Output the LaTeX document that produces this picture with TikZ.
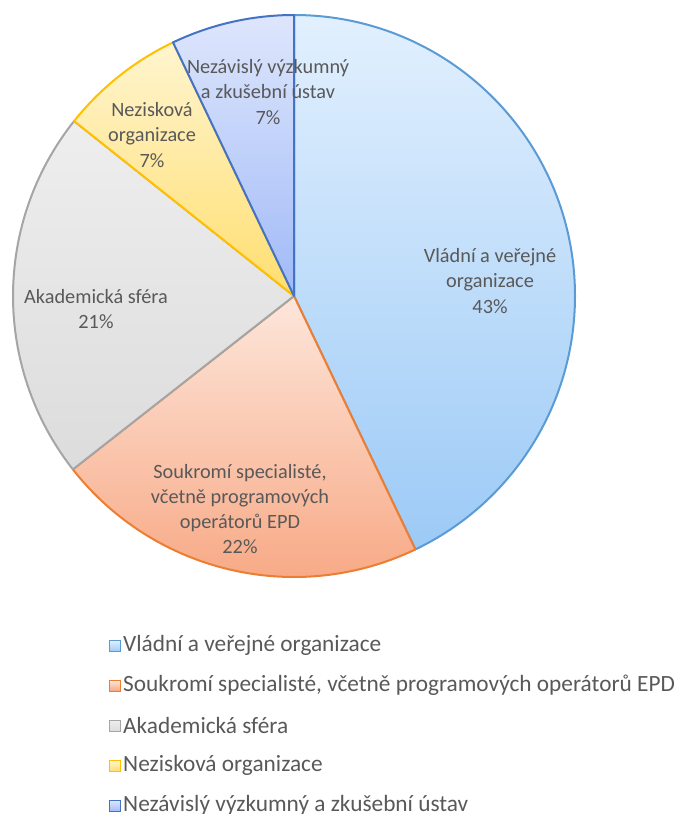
\documentclass[tikz,border=0pt]{standalone}
\usepackage{fontspec}
\setmainfont{Carlito}
\definecolor{txt}{HTML}{595959}
\definecolor{bluL}{HTML}{5B9BD5}
\definecolor{orgL}{HTML}{ED7D31}
\definecolor{gryL}{HTML}{A5A5A5}
\definecolor{ylwL}{HTML}{FFC000}
\definecolor{dbuL}{HTML}{4472C4}
\definecolor{bluT}{HTML}{E2F0FE}
\definecolor{bluB}{HTML}{9CCAF6}
\definecolor{orgT}{HTML}{FDE6DB}
\definecolor{orgB}{HTML}{F7A47E}
\definecolor{gryT}{HTML}{EEEEEE}
\definecolor{gryB}{HTML}{DCDCDC}
\definecolor{ylwT}{HTML}{FFF5CF}
\definecolor{ylwB}{HTML}{FFDE70}
\definecolor{dbuT}{HTML}{DEE6FC}
\definecolor{dbuB}{HTML}{A0BAF7}
\tikzset{
  slice/.style={line width=2pt, line join=round},
  lbl/.style={text=txt, font=\fontsize{20.3}{25.3}\selectfont, align=center, inner sep=0pt},
  legtxt/.style={text=txt, font=\fontsize{23.3}{26}\selectfont, anchor=west, inner sep=0pt},
  legbox/.style={line width=1.3pt, minimum size=11pt, inner sep=0pt},
}
\begin{document}
\begin{tikzpicture}[x=1pt,y=1pt]
\useasboundingbox (0,0) rectangle (681,-814);
\coordinate (c) at (294,-296);
\def\R{281}
% pie slices, clockwise from the top
\draw[slice, draw=bluL, top color=bluT, bottom color=bluB]
  (c) -- ++(90:\R) arc[start angle=90, end angle=-64.4, radius=\R] -- cycle;
\draw[slice, draw=orgL, top color=orgT, bottom color=orgB]
  (c) -- ++(-64.4:\R) arc[start angle=-64.4, end angle=-141.9, radius=\R] -- cycle;
\draw[slice, draw=gryL, top color=gryT, bottom color=gryB]
  (c) -- ++(-141.9:\R) arc[start angle=-141.9, end angle=-218.5, radius=\R] -- cycle;
\draw[slice, draw=ylwL, top color=ylwT, bottom color=ylwB]
  (c) -- ++(-218.5:\R) arc[start angle=-218.5, end angle=-244.5, radius=\R] -- cycle;
\draw[slice, draw=dbuL, top color=dbuT, bottom color=dbuB]
  (c) -- ++(-244.5:\R) arc[start angle=-244.5, end angle=-270, radius=\R] -- cycle;
% data labels
\node[lbl] (l1) at (490,-281) {Vládní a veřejné\\organizace\\43\%};
\node[lbl] (l2) at (240,-509) {Soukromí specialisté,\\včetně programových\\operátorů EPD\\22\%};
\node[lbl] (l3) at (96,-309) {Akademická sféra\\21\%};
\node[lbl] (l4) at (152,-135) {Nezisková\\organizace\\7\%};
\node[lbl] (l5) at (268,-92) {Nezávislý výzkumný\\a zkušební ústav\\7\%};
% legend
\foreach \i/\lc/\tc/\bc/\t in {
  0/bluL/bluT/bluB/{Vládní a veřejné organizace},
  1/orgL/orgT/orgB/{Soukromí specialisté, včetně programových operátorů EPD},
  2/gryL/gryT/gryB/{Akademická sféra},
  3/ylwL/ylwT/ylwB/{Nezisková organizace},
  4/dbuL/dbuT/dbuB/{Nezávislý výzkumný a zkušební ústav}}{
  \node[legbox, draw=\lc, top color=\tc, bottom color=\bc] (k\i) at (115,-646-40*\i) {};
  \node[legtxt] (t\i) at (123,-645-40*\i) {\t};
}
\end{tikzpicture}
\end{document}
